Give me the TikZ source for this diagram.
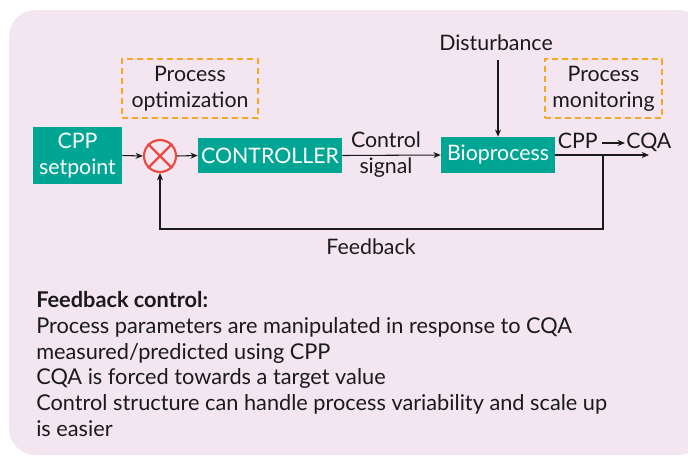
\documentclass[tikz,border=0pt]{standalone}
\usepackage{fontspec}
\setmainfont{Lato}
\usetikzlibrary{arrows.meta}
\definecolor{bgpink}{HTML}{F3E6F0}
\definecolor{teal1}{HTML}{00A693}
\definecolor{sumred}{HTML}{F0483E}
\definecolor{dashorange}{HTML}{F7A823}
\definecolor{ink}{HTML}{1A1A1A}
\tikzset{
  tealbox/.style={rectangle, fill=teal1, text=white, inner sep=0pt, align=center, font=\fontsize{16}{19}\selectfont},
  dashbox/.style={rectangle, draw=dashorange, line width=1.5pt, dash pattern=on 4.5pt off 3pt, inner sep=0pt, align=center, text=ink, font=\fontsize{16}{19.5}\selectfont},
  lbl/.style={inner sep=0pt, align=center, text=ink, font=\fontsize{16}{19}\selectfont},
  conn/.style={draw=ink, line width=0.8pt, -{Stealth[length=5.5pt,width=4.5pt]}},
}
\begin{document}
\begin{tikzpicture}[x=0.75pt,y=-0.75pt]
\useasboundingbox (0,0) rectangle (688,457);
\fill[bgpink, rounded corners=20pt] (9,10) rectangle (705,455);

\node[tealbox, minimum width=66.75pt, minimum height=42.75pt] (sp) at (77.5,155.5) {CPP\\setpoint};
\node[circle, draw=sumred, line width=1.6pt, minimum size=24pt, inner sep=0pt] (sum) at (160,156) {};
\draw[sumred, line width=1.6pt] (sum.north west) -- (sum.south east) (sum.north east) -- (sum.south west);
\node[tealbox, minimum width=108pt, minimum height=26.25pt] (ctrl) at (270,155.5) {CONTROLLER};
\node[tealbox, minimum width=85.5pt, minimum height=27pt] (bio) at (498,155) {Bioprocess};

\node[dashbox, minimum width=102pt, minimum height=44.25pt] (opt) at (190,88.5) {Process\\optimization};
\node[dashbox, minimum width=87.75pt, minimum height=44.25pt] (mon) at (603.5,88.5) {Process\\monitoring};

\node[lbl] (dist) at (496,43) {Disturbance};
\node[lbl] (csig) at (386,154.5) {Control\\signal};
\node[lbl, anchor=base east] (cpp) at (598,148) {CPP};
\node[lbl, anchor=base west] (cqa) at (626,148) {CQA};
\node[lbl] (fb) at (371,247) {Feedback};

\coordinate (out) at (649,155);
\coordinate (tap) at (603,155);
\coordinate (fbr) at (603,229);
\coordinate (fbl) at (160,229);
\coordinate (dtop) at (498,60);
\coordinate (ca) at (602,143);
\coordinate (cb) at (625,143);

\draw[conn] (sp.east) -- (sum.west);
\draw[conn] (sum.east) -- (ctrl.west);
\draw[conn] (ctrl.east) -- (bio.west);
\draw[conn] (bio.east) -- (out);
\draw[conn] (dtop) -- (bio.north);
\draw[conn] (ca) -- (cb);
\draw[conn] (tap) -- (fbr) -- (fbl) -- (sum.south);

\node[anchor=north west, inner sep=0pt, align=left, text=ink, font=\fontsize{16.3}{19.35}\selectfont] (txt) at (36,291) {\textbf{Feedback control:}\\
Process parameters are manipulated in response to CQA\\
measured/predicted using CPP\\
CQA is forced towards a target value\\
Control structure can handle process variability and scale up\\
is easier};
\end{tikzpicture}
\end{document}
